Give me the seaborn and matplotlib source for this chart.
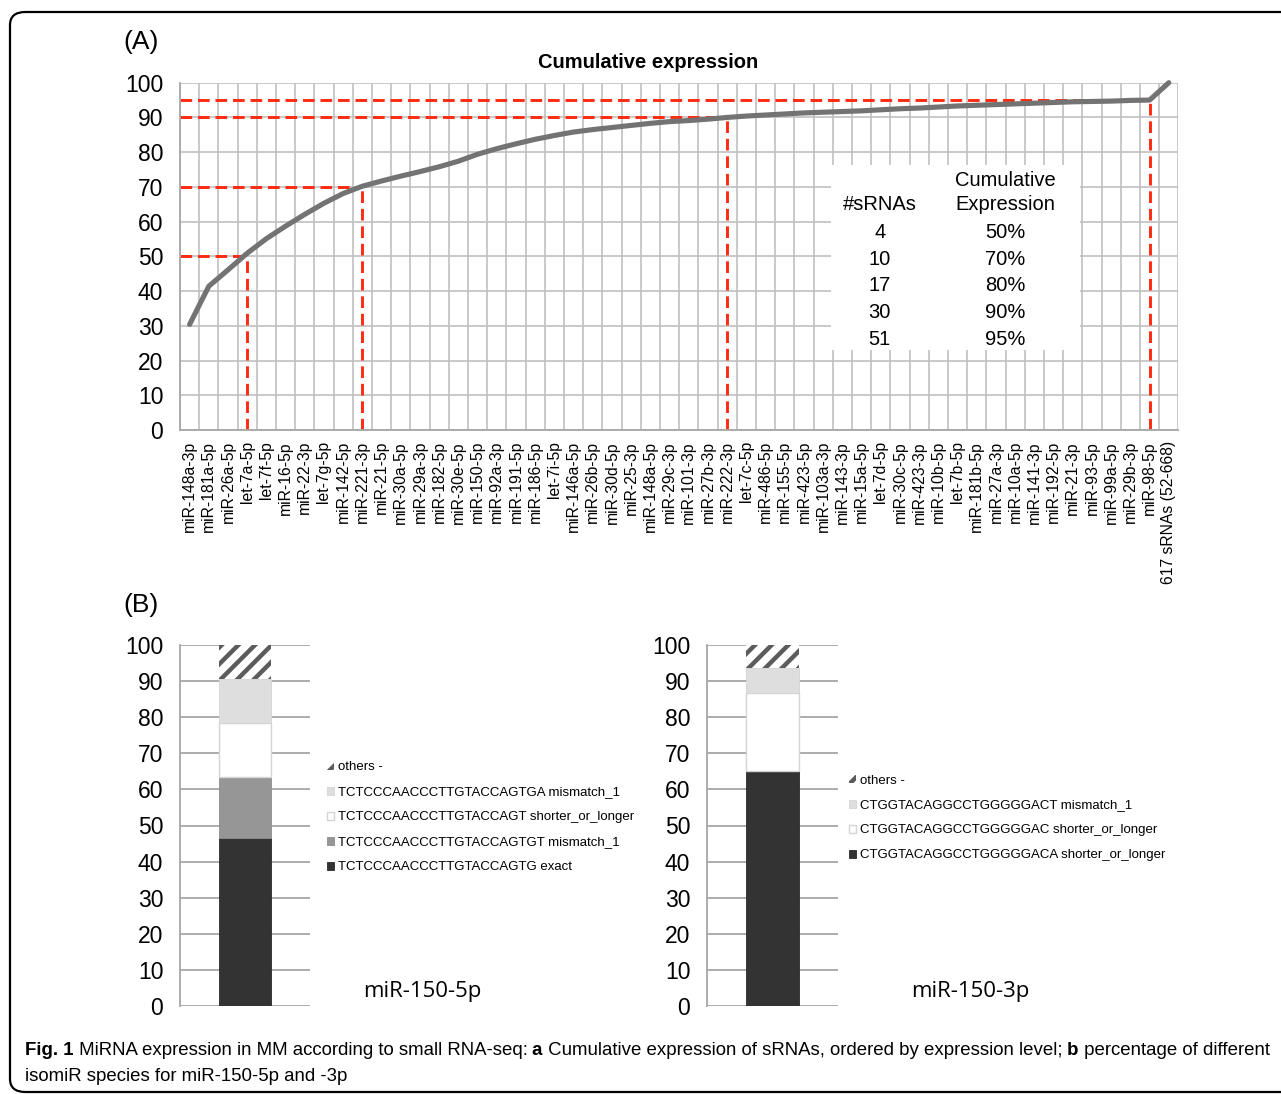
"""Cumulative miRNA expression (A) and isomiR composition of miR-150 (B)."""

import matplotlib

matplotlib.use("Agg")
import matplotlib.pyplot as plt
import numpy as np
import pandas as pd
import seaborn as sns
from matplotlib import font_manager
from matplotlib.patches import FancyBboxPatch, Rectangle

W, H = 1281, 1094

MIRNAS = [
    "miR-148a-3p", "miR-181a-5p", "miR-26a-5p", "let-7a-5p", "let-7f-5p",
    "miR-16-5p", "miR-22-3p", "let-7g-5p", "miR-142-5p", "miR-221-3p",
    "miR-21-5p", "miR-30a-5p", "miR-29a-3p", "miR-182-5p", "miR-30e-5p",
    "miR-150-5p", "miR-92a-3p", "miR-191-5p", "miR-186-5p", "let-7i-5p",
    "miR-146a-5p", "miR-26b-5p", "miR-30d-5p", "miR-25-3p", "miR-148a-5p",
    "miR-29c-3p", "miR-101-3p", "miR-27b-3p", "miR-222-3p", "let-7c-5p",
    "miR-486-5p", "miR-155-5p", "miR-423-5p", "miR-103a-3p", "miR-143-3p",
    "miR-15a-5p", "let-7d-5p", "miR-30c-5p", "miR-423-3p", "miR-10b-5p",
    "let-7b-5p", "miR-181b-5p", "miR-27a-3p", "miR-10a-5p", "miR-141-3p",
    "miR-192-5p", "miR-21-3p", "miR-93-5p", "miR-99a-5p", "miR-29b-3p",
    "miR-98-5p", "617 sRNAs (52-668)",
]
CUMULATIVE = [
    30.4, 41.4, 46.1, 50.9, 55.1, 58.7, 62.1, 65.3, 68.1, 70.2,
    71.7, 73.1, 74.4, 75.8, 77.4, 79.4, 81.0, 82.4, 83.7, 84.8,
    85.8, 86.5, 87.1, 87.7, 88.3, 88.8, 89.1, 89.5, 90.0, 90.4,
    90.7, 91.0, 91.3, 91.5, 91.7, 91.9, 92.2, 92.5, 92.7, 93.0,
    93.3, 93.5, 93.7, 93.9, 94.1, 94.3, 94.5, 94.6, 94.7, 94.9,
    95.0, 100.0,
]
CUTOFF_MIRNAS = ["let-7a-5p", "miR-221-3p", "miR-222-3p", "miR-98-5p"]
CUTOFF_LEVELS = [50, 70, 90, 95]
TABLE_COUNTS = ["4", "10", "17", "30", "51"]
TABLE_PERCENT = ["50%", "70%", "80%", "90%", "95%"]

# isomiR segments, listed bottom to top
ISO_5P_LABELS = [
    "TCTCCCAACCCTTGTACCAGTG exact",
    "TCTCCCAACCCTTGTACCAGTGT mismatch_1",
    "TCTCCCAACCCTTGTACCAGT shorter_or_longer",
    "TCTCCCAACCCTTGTACCAGTGA mismatch_1",
    "others -",
]
ISO_5P_VALUES = [46.5, 16.9, 15.1, 12.0, 9.5]
ISO_3P_LABELS = [
    "CTGGTACAGGCCTGGGGGACA shorter_or_longer",
    "CTGGTACAGGCCTGGGGGAC shorter_or_longer",
    "CTGGTACAGGCCTGGGGGACT mismatch_1",
    "others -",
]
ISO_3P_VALUES = [65.1, 21.6, 6.9, 6.4]

SEGMENT_STYLE = {
    "exact": dict(color="#333333", edgecolor="#2a2a2a", linewidth=0.6),
    "dark": dict(color="#333333", edgecolor="#2a2a2a", linewidth=0.6),
    "gray": dict(color="#969696", edgecolor="#8c8c8c", linewidth=0.6),
    "white": dict(color="#ffffff", edgecolor="#d4d4d4", linewidth=1.0),
    "light": dict(color="#dedede", edgecolor="#d4d4d4", linewidth=0.6),
    "others": dict(color="#ffffff", edgecolor="#5c5c5c", linewidth=0, hatch="//"),
}
STYLES_5P = ["exact", "gray", "white", "light", "others"]
STYLES_3P = ["dark", "white", "light", "others"]

GRID = "#c0c0c0"
AXIS = "#a6a6a6"
FONT = "Liberation Sans"


def px_rect(left, top, right, bottom):
    return [left / W, 1 - bottom / H, (right - left) / W, (bottom - top) / H]


def draw_cumulative(fig):
    ax = fig.add_axes(px_rect(180, 82.7, 1178.4, 430))
    data = pd.DataFrame({"pos": np.arange(len(MIRNAS)), "cum": CUMULATIVE})
    ax.set_xlim(-0.5, len(MIRNAS) - 0.5)
    ax.set_ylim(0, 100)

    ax.set_xticks(np.arange(len(MIRNAS)))
    ax.set_xticklabels(MIRNAS, rotation=90, fontsize=11.3)
    ax.set_xticks(np.arange(-0.5, len(MIRNAS)), minor=True)
    ax.set_yticks(np.arange(0, 101, 10))
    ax.tick_params(axis="y", labelsize=16.5, length=5, color=AXIS, pad=7)
    ax.tick_params(axis="x", which="major", length=0, pad=8)
    ax.tick_params(axis="x", which="minor", length=5, color=AXIS)
    ax.grid(axis="y", which="major", color=GRID, linewidth=1.2)
    ax.grid(axis="x", which="minor", color=GRID, linewidth=1.2)
    ax.grid(axis="x", which="major", visible=False)
    for side in ("top", "right"):
        ax.spines[side].set_visible(False)
    for side in ("left", "bottom"):
        ax.spines[side].set_color(AXIS)
        ax.spines[side].set_linewidth(1.3)
    ax.set_axisbelow(True)

    # white box holding the summary table
    ax.add_patch(Rectangle((33.4, 23), 13.0, 53.3, facecolor="white",
                           edgecolor="none", zorder=1.5))

    for name, level in zip(CUTOFF_MIRNAS, CUTOFF_LEVELS):
        pos = MIRNAS.index(name)
        ax.plot([-0.5, pos], [level, level], color="#ff2a12", linewidth=2.1,
                dashes=(4, 2), zorder=2)
        ax.plot([pos, pos], [0, level], color="#ff2a12", linewidth=2.1,
                dashes=(4, 2), zorder=2)

    sns.lineplot(data=data, x="pos", y="cum", ax=ax, color="#737373",
                 linewidth=3.7, zorder=3, clip_on=False)
    ax.set_xlabel("")
    ax.set_ylabel("")

    col1, col2 = 35.95, 42.5
    ax.text(col2, 71.7, "Cumulative", ha="center", va="center", fontsize=14.5)
    ax.text(col2, 64.8, "Expression", ha="center", va="center", fontsize=14.5)
    ax.text(col1, 64.8, "#sRNAs", ha="center", va="center", fontsize=14.5)
    for y, count, pct in zip([57.0, 49.2, 41.6, 33.9, 26.2], TABLE_COUNTS, TABLE_PERCENT):
        ax.text(col1, y, count, ha="center", va="center", fontsize=14.5)
        ax.text(col2, y, pct, ha="center", va="center", fontsize=14.5)

    ax.text((648 - 180) / 998.4, 1 + (82.7 - 62) / 347.3, "Cumulative expression",
            transform=ax.transAxes, ha="center", va="center", fontsize=14.5,
            fontweight="bold")


def draw_isomirs(fig, rect, mirna, labels, values, styles, legend_anchor, name_xy):
    ax = fig.add_axes(rect)
    bottom = 0.0
    for label, value, style in zip(labels, values, styles):
        sns.barplot(x=[mirna], y=[value], bottom=bottom, ax=ax, width=0.4,
                    saturation=1, errorbar=None, label=label, zorder=2,
                    **SEGMENT_STYLE[style])
        bottom += value
    if ax.get_legend() is not None:
        ax.get_legend().remove()
    ax.set_xlim(-0.5, 0.5)
    ax.set_ylim(0, 100)
    ax.set_yticks(np.arange(0, 101, 10))
    ax.set_xticks([])
    ax.tick_params(axis="y", labelsize=16.5, length=5, color=AXIS, pad=7)
    ax.grid(axis="y", color=AXIS, linewidth=1.3)
    ax.grid(axis="x", visible=False)
    ax.set_axisbelow(True)
    for side in ("top", "right", "bottom"):
        ax.spines[side].set_visible(False)
    ax.spines["left"].set_color(AXIS)
    ax.spines["left"].set_linewidth(1.3)
    ax.set_xlabel("")
    ax.set_ylabel("")

    handles, names = ax.get_legend_handles_labels()
    fig.legend(handles[::-1], names[::-1], loc="upper left",
               bbox_to_anchor=legend_anchor, frameon=False, fontsize=9.5,
               handlelength=0.55, handleheight=0.55, handletextpad=0.25,
               labelspacing=0.98, borderpad=0, borderaxespad=0)
    fig.text(name_xy[0] / W, 1 - name_xy[1] / H, mirna, ha="center",
             va="center", fontsize=16, family="Open Sans")


def draw_caption(fig, narrow):
    runs = [
        ("Fig. 1", "bold"),
        (" MiRNA expression in MM according to small RNA-seq:", "normal"),
        (" a", "bold"),
        (" Cumulative expression of sRNAs, ordered by expression level;", "normal"),
        (" b", "bold"),
        (" percentage of different", "normal"),
    ]
    renderer = fig.canvas.get_renderer()

    def width_of(size):
        total = 0.0
        for text, weight in runs:
            t = fig.text(0, 0, text, fontsize=size, fontweight=weight, family=narrow)
            total += t.get_window_extent(renderer).width
            t.remove()
        return total

    size = 14 * (1253 / width_of(14))
    x = 25.0
    for text, weight in runs:
        t = fig.text(x / W, 1 - 1055 / H, text, fontsize=size, fontweight=weight,
                     family=narrow, va="baseline", ha="left")
        x += t.get_window_extent(renderer).width
    fig.text(25 / W, 1 - 1081 / H, "isomiR species for miR-150-5p and -3p",
             fontsize=size, family=narrow, va="baseline", ha="left")


def main():
    sns.set_theme(style="white")
    plt.rcParams.update({
        "font.family": [FONT, "DejaVu Sans"],
        "hatch.linewidth": 3.2,
        "text.color": "black",
        "xtick.color": "black",
        "ytick.color": "black",
    })
    names = {f.name for f in font_manager.fontManager.ttflist}
    narrow = "Liberation Sans Narrow" if "Liberation Sans Narrow" in names else FONT

    fig = plt.figure(figsize=(W / 100, H / 100), dpi=100)

    draw_cumulative(fig)
    draw_isomirs(fig, px_rect(180, 645, 310, 1006), "miR-150-5p", ISO_5P_LABELS,
                 ISO_5P_VALUES, STYLES_5P, (327 / W, 1 - 761.5 / H), (422, 992))
    draw_isomirs(fig, px_rect(707, 645, 838, 1006), "miR-150-3p", ISO_3P_LABELS,
                 ISO_3P_VALUES, STYLES_3P, (849 / W, 1 - 774.5 / H), (970, 992))

    fig.text(123 / W, 1 - 42 / H, "(A)", fontsize=19, va="center", ha="left")
    fig.text(123 / W, 1 - 605 / H, "(B)", fontsize=19, va="center", ha="left")

    draw_caption(fig, narrow)

    frame = FancyBboxPatch((10 / W, 1 - 1092 / H), 1300 / W, 1080 / H,
                           boxstyle="round,pad=0,rounding_size=0.012",
                           transform=fig.transFigure, fill=False,
                           edgecolor="black", linewidth=1.6, clip_on=False)
    fig.patches.append(frame)

    fig.savefig("out.png", dpi=100, facecolor="white")


if __name__ == "__main__":
    main()
